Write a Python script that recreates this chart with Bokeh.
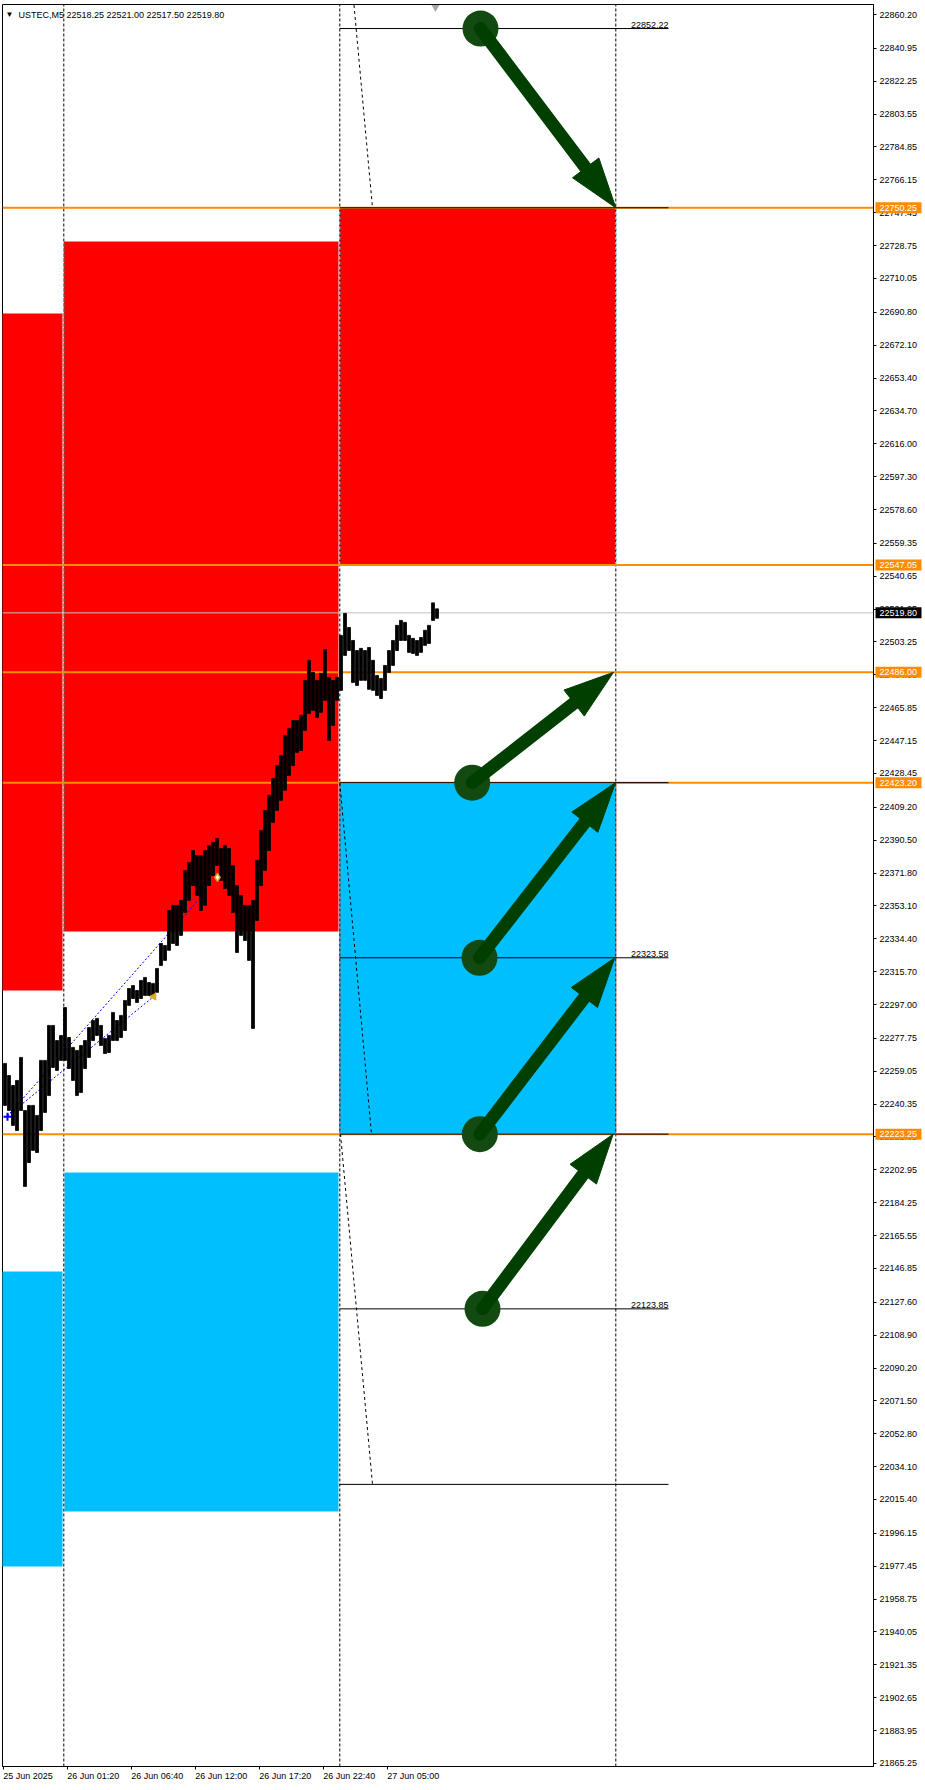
import math
from bokeh.plotting import figure
from bokeh.models import FixedTicker, PrintfTickFormatter, Label, Range1d, LinearAxis
from bokeh.embed import file_html
from bokeh.resources import INLINE
from bokeh.core.properties import value

FONT = "Liberation Sans"

# ---------------- data ----------------
symbol = "USTEC,M5"
header_ohlc = [22518.25, 22521.00, 22517.50, 22519.80]
bid_price = 22519.80

price_ticks = [22860.20, 22840.95, 22822.25, 22803.55, 22784.85, 22766.15, 22747.45,
               22728.75, 22710.05, 22690.80, 22672.10, 22653.40, 22634.70, 22616.00,
               22597.30, 22578.60, 22559.35, 22540.65, 22521.95, 22503.25, 22484.55,
               22465.85, 22447.15, 22428.45, 22409.20, 22390.50, 22371.80, 22353.10,
               22334.40, 22315.70, 22297.00, 22277.75, 22259.05, 22240.35, 22221.65,
               22202.95, 22184.25, 22165.55, 22146.85, 22127.60, 22108.90, 22090.20,
               22071.50, 22052.80, 22034.10, 22015.40, 21996.15, 21977.45, 21958.75,
               21940.05, 21921.35, 21902.65, 21883.95, 21865.25]

time_tick_bars = [0, 64, 128, 192, 256, 320, 384]
time_tick_labels = ["25 Jun 2025", "26 Jun 01:20", "26 Jun 06:40", "26 Jun 12:00",
                    "26 Jun 17:20", "26 Jun 22:40", "27 Jun 05:00"]

day_separators = [60.6, 336.6, 612.6]

# supply (red) and demand (blue) zones: bar index left/right, price top/bottom
supply_left = [-50.0, 60.6, 336.6]
supply_right = [59.3, 335.3, 612.6]
supply_top = [22690.1, 22731.1, 22750.25]
supply_bottom = [22305.0, 22338.5, 22547.05]

demand_left = [336.6, 61.3, -50.0]
demand_right = [612.6, 335.3, 59.3]
demand_top = [22423.20, 22201.4, 22145.1]
demand_bottom = [22223.25, 22008.6, 21977.3]

orange_levels = [22750.25, 22547.05, 22486.00, 22423.20, 22223.25]
target_levels = [22852.22, 22750.25, 22423.20, 22323.58, 22223.25, 22123.85, 22024.0]
labelled_targets = [22852.22, 22323.58, 22123.85]
target_from, target_to = 336.6, 665.3

fan_x0 = [336.6, 336.6, 337.3]
fan_y0 = [22954.0, 22423.20, 22223.25]
fan_x1 = [369.3, 368.3, 369.3]
fan_y1 = [22750.25, 22223.25, 22024.0]

channel_x0 = [4.3, 4.3]
channel_y0 = [22233.6, 22233.6]
channel_x1 = [197.3, 150.6]
channel_y1 = [22357.9, 22301.6]

arrow_x0 = [477.3, 469.0, 476.3, 476.6, 479.3]
arrow_y0 = [22852.22, 22423.20, 22323.58, 22223.25, 22123.85]
arrow_x1 = [612.6, 610.3, 612.3, 611.6, 610.0]
arrow_y1 = [22750.25, 22486.00, 22423.20, 22323.58, 22223.25]

# price ribbon (high / low per 4-bar group, M5)
candle_high = [22263.5, 22256.6, 22250.9, 22253.8, 22266.9, 22236.7, 22239.6, 22239.6, 22233.9, 22265.2,
               22265.2, 22285.1, 22285.1, 22276.5, 22279.4, 22295.3, 22278.2, 22272.6, 22270.9, 22273.7,
               22276.5, 22283.9, 22287.9, 22289.1, 22285.1, 22277.7, 22279.4, 22292.5, 22287.9, 22290.8,
               22299.3, 22306.1, 22307.8, 22305.0, 22310.7, 22312.4, 22309.5, 22309.0, 22317.5, 22331.7,
               22330.6, 22350.5, 22353.4, 22353.4, 22356.2, 22373.3, 22377.8, 22384.6, 22381.8, 22381.8,
               22384.6, 22387.5, 22389.2, 22391.5, 22385.8, 22387.5, 22385.8, 22376.1, 22364.7, 22359.0,
               22353.4, 22353.4, 22356.2, 22379.0, 22396.0, 22407.4, 22416.0, 22425.6, 22433.0, 22438.7,
               22450.1, 22454.1, 22458.6, 22458.6, 22461.5, 22481.4, 22492.8, 22486.0, 22481.4, 22485.4,
               22499.0, 22483.1, 22481.4, 22483.1, 22507.0, 22519.5, 22511.5, 22504.1, 22498.4, 22499.6,
               22498.4, 22500.1, 22492.8, 22484.2, 22482.5, 22489.9, 22498.4, 22504.1, 22512.7, 22515.5,
               22514.4, 22507.0, 22505.3, 22504.1, 22505.8, 22509.9, 22512.7, 22525.5, 22522.1]
candle_low = [22239.6, 22236.7, 22228.2, 22225.3, 22236.7, 22193.5, 22207.1, 22214.0, 22212.8, 22225.3,
              22235.6, 22245.2, 22261.2, 22259.5, 22265.2, 22265.2, 22260.6, 22253.8, 22245.2, 22246.9,
              22260.6, 22266.9, 22276.5, 22279.4, 22273.7, 22269.1, 22269.7, 22276.5, 22276.5, 22278.2,
              22282.2, 22296.5, 22300.4, 22298.2, 22300.4, 22302.1, 22302.1, 22302.1, 22303.9, 22319.2,
              22322.1, 22327.8, 22331.7, 22330.6, 22336.3, 22349.4, 22356.2, 22364.7, 22359.0, 22350.5,
              22353.4, 22364.7, 22370.4, 22376.1, 22367.6, 22363.0, 22359.0, 22349.4, 22326.6, 22336.3,
              22333.4, 22322.1, 22283.4, 22344.8, 22364.7, 22373.3, 22384.6, 22400.6, 22407.4, 22413.1,
              22418.8, 22427.3, 22433.0, 22440.4, 22441.5, 22452.9, 22462.6, 22464.3, 22460.3, 22463.2,
              22470.0, 22447.2, 22455.8, 22470.0, 22475.7, 22495.6, 22498.4, 22480.2, 22478.5, 22481.4,
              22481.4, 22476.3, 22475.7, 22472.8, 22471.1, 22475.7, 22485.9, 22489.9, 22498.4, 22504.1,
              22504.1, 22497.3, 22496.7, 22495.6, 22497.3, 22501.3, 22502.4, 22515.5, 22516.7]
group_bars = 4

entry_marker = (4.3, 22233.2)
exit_marker = (150.6, 22301.5)
close_marker = (214.3, 22369.3)
shift_marker = (432.3, 22864.3)

# ---------------- figure ----------------
X0, X1 = -0.7, 870.3
Y0, Y1 = 21863.5, 22865.9
FW, FH = 871.0, 1762.0

p = figure(width=925, height=1790, x_range=Range1d(X0, X1), y_range=Range1d(Y0, Y1),
           y_axis_location="right", output_backend="svg", toolbar_location=None,
           min_border_left=2, min_border_right=52, min_border_top=4, min_border_bottom=24)
p.xgrid.visible = False
p.ygrid.visible = False
p.outline_line_color = "black"
p.outline_line_width = 1
p.background_fill_color = "white"
p.border_fill_color = "white"

ya = p.yaxis[0]
ya.ticker = FixedTicker(ticks=price_ticks)
ya.formatter = PrintfTickFormatter(format="%.2f")
ya.major_tick_out = 3
ya.major_tick_in = 0
ya.minor_tick_line_color = None
ya.major_label_standoff = 3
ya.major_label_text_font = FONT
ya.major_label_text_font_size = "9px"
ya.major_label_text_color = "black"
ya.axis_line_color = "black"

# time axis: tick marks on the first axis, left-aligned labels on a second one
xa = p.xaxis[0]
xa.ticker = FixedTicker(ticks=time_tick_bars)
xa.major_label_overrides = {float(b): "" for b in time_tick_bars}
xa.major_label_text_font_size = "0px"
xa.major_label_standoff = 0
xa.major_tick_out = 3
xa.major_tick_in = 0
xa.minor_tick_line_color = None
xa.axis_line_color = "black"

EM = {"J": 0.5, " ": 0.278, ":": 0.278}
def half_width(s, size=9.0):
    return 0.5 * size * sum(EM.get(c, 0.556) for c in s)

label_pos = [round(b + half_width(t), 2) for b, t in zip(time_tick_bars, time_tick_labels)]
xl = LinearAxis(ticker=FixedTicker(ticks=label_pos),
                major_label_overrides={float(c): t for c, t in zip(label_pos, time_tick_labels)},
                major_tick_out=0, major_tick_in=0, minor_tick_line_color=None,
                major_tick_line_color=None, axis_line_color=None, major_label_standoff=1,
                major_label_text_font=FONT, major_label_text_font_size="9px",
                major_label_text_color="black")
p.add_layout(xl, "below")

# zones
p.quad(left=supply_left, right=supply_right, top=supply_top, bottom=supply_bottom,
       fill_color="#FF0000", line_color=None)
p.quad(left=demand_left, right=demand_right, top=demand_top, bottom=demand_bottom,
       fill_color="#00BFFF", line_color=None)

# day separators (XOR-like colour over the zones)
p.segment(x0=day_separators, y0=[Y0] * 3, x1=day_separators, y1=[Y1] * 3,
          line_color="black", line_dash="3 2", line_width=1)
xs0, ys0, ys1, cols = [], [], [], []
for lefts, rights, tops, bots, col in [(supply_left, supply_right, supply_top, supply_bottom, "#00FFFF"),
                                       (demand_left, demand_right, demand_top, demand_bottom, "#FF4000")]:
    for s in day_separators:
        for l, r, t, b in zip(lefts, rights, tops, bots):
            if l <= s <= r:
                xs0.append(s); ys0.append(b); ys1.append(t); cols.append(col)
p.segment(x0=xs0, y0=ys0, x1=xs0, y1=ys1, line_color=cols, line_dash="3 2", line_width=1)

# horizontal levels
p.segment(x0=[X0] * len(orange_levels), y0=orange_levels, x1=[X1] * len(orange_levels), y1=orange_levels,
          line_color="#FF8C00", line_width=2)
p.segment(x0=[X0], y0=[bid_price], x1=[X1], y1=[bid_price], line_color="#C0C0C0", line_width=1)
p.segment(x0=[target_from] * len(target_levels), y0=target_levels,
          x1=[target_to] * len(target_levels), y1=target_levels, line_color="black", line_width=1)
p.text(x=[target_to] * len(labelled_targets), y=labelled_targets,
       text=[f"{v:.2f}" for v in labelled_targets], text_align="right", text_baseline="bottom",
       text_font=value(FONT), text_font_size="9px", text_color="black", y_offset=-1)

# fan lines
p.segment(x0=fan_x0, y0=fan_y0, x1=fan_x1, y1=fan_y1, line_color="black", line_dash="3 3", line_width=1)

# channel
p.segment(x0=channel_x0, y0=channel_y0, x1=channel_x1, y1=channel_y1,
          line_color="#0000FF", line_dash="2 2", line_width=1)

# price ribbon
gx = [group_bars * k + 1.8 for k in range(len(candle_high))]
p.vbar(x=gx, width=group_bars * 0.75, top=candle_high, bottom=candle_low,
       fill_color="black", line_color="black", line_width=0.8)

# markers
p.scatter(x=[entry_marker[0]], y=[entry_marker[1]], marker="cross", size=8, line_color="#0000FF", line_width=2)
p.scatter(x=[exit_marker[0]], y=[exit_marker[1]], marker="triangle", angle=math.pi / 2, size=7,
          fill_color="#DAA520", line_color="#DAA520")
p.scatter(x=[close_marker[0]], y=[close_marker[1]], marker="diamond", size=8,
          fill_color="#FFFFF0", line_color="#DAA520", line_width=1.5)
p.scatter(x=[shift_marker[0]], y=[shift_marker[1]], marker="inverted_triangle", size=8,
          fill_color="#A9A9A9", line_color=None)

# arrows
sx = FW / (X1 - X0)
sy = FH / (Y1 - Y0)
HEAD_L, HEAD_W, SHAFT = 50.0, 16.5, 13.0
head_xs, head_ys, sh_x1, sh_y1 = [], [], [], []
for x0, y0, x1, y1 in zip(arrow_x0, arrow_y0, arrow_x1, arrow_y1):
    px0, py0, px1, py1 = x0 * sx, y0 * sy, x1 * sx, y1 * sy
    dx, dy = px1 - px0, py1 - py0
    d = math.hypot(dx, dy)
    ux, uy = dx / d, dy / d
    nx, ny = -uy, ux
    bx, by = px1 - ux * HEAD_L, py1 - uy * HEAD_L
    head_xs.append([px1 / sx, (bx + nx * HEAD_W) / sx, (bx - nx * HEAD_W) / sx])
    head_ys.append([py1 / sy, (by + ny * HEAD_W) / sy, (by - ny * HEAD_W) / sy])
    sh_x1.append((px1 - ux * (HEAD_L - 6)) / sx)
    sh_y1.append((py1 - uy * (HEAD_L - 6)) / sy)
p.scatter(x=arrow_x0, y=arrow_y0, marker="circle", size=36, fill_color="#124a12", line_color=None)
p.segment(x0=arrow_x0, y0=arrow_y0, x1=sh_x1, y1=sh_y1, line_color="#003f00",
          line_width=SHAFT, line_cap="round")
p.patches(xs=head_xs, ys=head_ys, fill_color="#003f00", line_color="#003f00", line_width=1)

# header
p.add_layout(Label(x=3, x_units="screen", y=22860.2, text="\u25BC",
                   text_font=FONT, text_font_size="8px", text_baseline="middle", text_color="black"))
p.add_layout(Label(x=16, x_units="screen", y=22860.2,
                   text=symbol + "  " + " ".join(f"{v:.2f}" for v in header_ohlc),
                   text_font=FONT, text_font_size="9px", text_baseline="middle", text_color="black"))

# price tags over the price axis (overlay level, outside the frame)
tag_levels = orange_levels + [bid_price]
tag_fill = ["#FF8C00"] * len(orange_levels) + ["black"]
tag_center = X1 + 2.0 + 23.0
p.rect(x=[tag_center] * len(tag_levels), y=tag_levels, width=46, height=11, height_units="screen",
       fill_color=tag_fill, line_color=None, level="overlay")
p.text(x=[X1 + 6.0] * len(tag_levels), y=tag_levels, text=[f"{v:.2f}" for v in tag_levels],
       text_align="left", text_baseline="middle", text_font=value(FONT), text_font_size="9px",
       text_color="white", level="overlay")

open("out.html", "w").write(file_html(p, INLINE))
